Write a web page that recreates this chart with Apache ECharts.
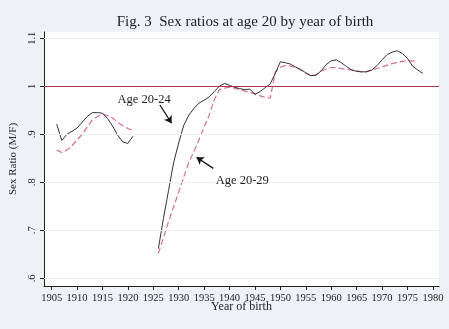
<!DOCTYPE html>
<html><head><meta charset="utf-8">
<script src="https://cdn.jsdelivr.net/npm/echarts@6/dist/echarts.min.js"></script>
<style>html,body{margin:0;padding:0;background:#eef1f5;}#c{width:449px;height:329px;}</style>
</head><body><div id="c"></div>
<script>
var yearsA = [1906,1907,1908,1909,1910,1911,1912,1913,1914,1915,1916,1917,1918,1919,1920,1921];
var yearsB = [1926,1927,1928,1929,1930,1931,1932,1933,1934,1935,1936,1937,1938,1939,1940,1941,1942,1943,1944,1945,1946,1947,1948,1949,1950,1951,1952,1953,1954,1955,1956,1957,1958,1959,1960,1961,1962,1963,1964,1965,1966,1967,1968,1969,1970,1971,1972,1973,1974,1975,1976,1977,1978];
var age2024A = [0.921,0.887,0.900,0.906,0.913,0.925,0.937,0.945,0.945,0.944,0.933,0.917,0.898,0.884,0.881,0.896];
var age2024B = [0.662,0.725,0.783,0.841,0.882,0.919,0.940,0.954,0.965,0.971,0.978,0.989,1.000,1.006,1.002,0.998,0.995,0.993,0.994,0.983,0.989,0.997,1.005,1.027,1.051,1.049,1.046,1.040,1.035,1.028,1.022,1.023,1.032,1.045,1.053,1.055,1.049,1.041,1.034,1.031,1.030,1.030,1.034,1.043,1.055,1.066,1.071,1.074,1.068,1.058,1.042,1.034,1.027];
var age2029A = [0.867,0.862,0.867,0.876,0.888,0.900,0.915,0.930,0.937,0.942,0.939,0.934,0.925,0.918,0.912,0.908];
var age2029B = [0.652,0.685,0.718,0.749,0.780,0.811,0.842,0.864,0.889,0.915,0.940,0.972,0.993,0.996,0.998,0.996,0.993,0.990,0.987,0.984,0.980,0.977,0.975,1.030,1.040,1.043,1.042,1.039,1.034,1.027,1.022,1.024,1.031,1.036,1.039,1.039,1.037,1.035,1.034,1.032,1.030,1.031,1.034,1.037,1.040,1.044,1.047,1.050,1.052,1.053,1.053,1.051];
var xTicks = [1905,1910,1915,1920,1925,1930,1935,1940,1945,1950,1955,1960,1965,1970,1975,1980];
var yTicks = [0.6,0.7,0.8,0.9,1.0,1.1];
var yTickLabels = ['.6','.7','.8','.9','1','1.1'];
var refValue = 1.0;

function pairs(xs, ys){ return xs.map(function(x,i){return [x, ys[i]];}); }
function withGap(xa, ya, xb, yb){ return pairs(xa,ya).concat([[1923.5, null]]).concat(pairs(xb,yb)); }

var serif = 'Liberation Serif';
var chart = echarts.init(document.getElementById('c'), null, {renderer:'canvas'});
chart.setOption({
  backgroundColor: '#eef1f5',
  animation: false,
  title: {
    text: 'Fig. 3  Sex ratios at age 20 by year of birth',
    left: 240, top: 10, textAlign: 'center',
    textStyle: {fontFamily: serif, fontWeight: 'normal', fontSize: 15, color: '#222'}
  },
  grid: {left: 44, right: 10, top: 32, bottom: 43, show: true, backgroundColor: '#ffffff', borderWidth: 0},
  xAxis: {
    type: 'value', min: 1903.5, max: 1981.2,
    name: 'Year of birth', nameLocation: 'middle', nameGap: 15, nameMoveOverlap: false,
    nameTextStyle: {fontFamily: serif, fontSize: 12, color: '#222'},
    axisLine: {show: true, onZero: false, lineStyle: {color: '#222', width: 1}},
    axisTick: {show: true, customValues: xTicks, length: 4, lineStyle: {color: '#222'}},
    axisLabel: {customValues: xTicks, fontFamily: serif, fontSize: 10.5, color: '#222', margin: 7,
      formatter: function(v){ return String(Math.round(v)); }},
    splitLine: {show: false}
  },
  yAxis: {
    type: 'value', min: 0.584, max: 1.113,
    name: 'Sex Ratio (M/F)', nameLocation: 'middle', nameGap: 25,
    nameTextStyle: {fontFamily: serif, fontSize: 11, color: '#222'},
    axisLine: {show: true, lineStyle: {color: '#222', width: 1}},
    axisTick: {show: true, customValues: yTicks, length: 4, lineStyle: {color: '#222'}},
    axisLabel: {customValues: yTicks, rotate: 90, fontFamily: serif, fontSize: 10.5, color: '#222', margin: 6,
      formatter: function(v){ var i = yTicks.findIndex(function(t){return Math.abs(t-v)<1e-6;}); return i>=0 ? yTickLabels[i] : ''; }},
    splitLine: {show: false}
  },
  series: [
    {
      type: 'line', name: 'grid', data: [], silent: true,
      markLine: {symbol: 'none', silent: true, label: {show: false},
        lineStyle: {color: '#eef1f1', width: 1, type: 'solid'},
        data: yTicks.map(function(t){return {yAxis: t};})}
    },
    {
      type: 'line', name: 'Age 20-29', data: withGap(yearsA, age2029A, yearsB, age2029B),
      showSymbol: false, connectNulls: false,
      lineStyle: {color: '#dc7088', width: 1.2, type: [6, 3]}, z: 3
    },
    {
      type: 'line', name: 'Age 20-24', data: withGap(yearsA, age2024A, yearsB, age2024B),
      showSymbol: false, connectNulls: false,
      lineStyle: {color: '#333333', width: 1}, z: 4,
      markLine: {silent: true, label: {show: false}, animation: false,
        data: [
          [{coord: [1926.3, 0.961], symbol: 'none'}, {coord: [1928.6, 0.923], symbol: 'arrow', symbolSize: 7}],
          [{coord: [1936.8, 0.829], symbol: 'none'}, {coord: [1933.5, 0.852], symbol: 'arrow', symbolSize: 7}]
        ],
        lineStyle: {color: '#111', width: 1.3, type: 'solid'}
      },
      markPoint: {silent: true, symbol: 'circle', symbolSize: 0,
        data: [
          {coord: [1923.2, 0.972], label: {show: true, formatter: 'Age 20-24', fontFamily: serif, fontSize: 12.5, color: '#222', position: 'inside'}},
          {coord: [1942.5, 0.804], label: {show: true, formatter: 'Age 20-29', fontFamily: serif, fontSize: 12.5, color: '#222', position: 'inside'}}
        ]
      }
    },
    {
      type: 'line', name: 'ref', data: [], silent: true,
      markLine: {symbol: 'none', silent: true, label: {show: false},
        lineStyle: {color: '#b0304e', width: 1, type: 'solid'},
        data: [{yAxis: refValue}]}
    }
  ]
});
</script></body></html>
